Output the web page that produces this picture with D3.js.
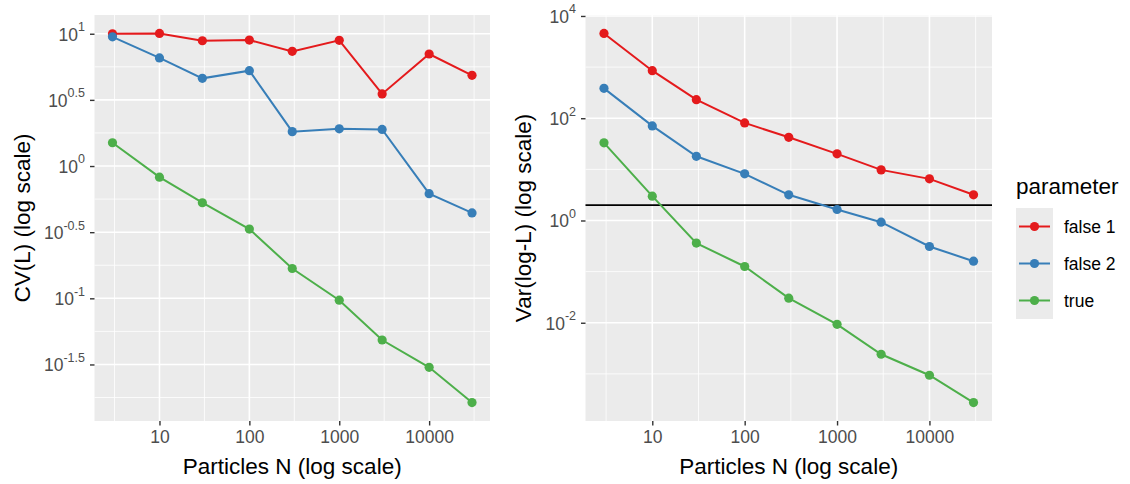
<!DOCTYPE html>
<html>
<head>
<meta charset="utf-8">
<script src="https://cdn.jsdelivr.net/npm/d3@7"></script>
<style>
  html, body { margin: 0; padding: 0; background: #ffffff; }
  svg { display: block; font-family: "Liberation Sans", Arial, Helvetica, sans-serif; }
</style>
</head>
<body>
<svg id="chart" width="1130" height="484"></svg>
<script>
// ---------------- data ----------------
const N = [3, 10, 30, 100, 300, 1000, 3000, 10000, 30000];
const parameters = ["false 1", "false 2", "true"];
const colors = ["#E41A1C", "#377EB8", "#4DAF4A"];

// CV(L)
const cvFalse1 = [10.0, 10.05, 8.85, 8.95, 7.36, 8.91, 3.51, 7.03, 4.85];
const cvFalse2 = [9.48, 6.56, 4.60, 5.26, 1.82, 1.91, 1.89, 0.618, 0.442];
const cvTrue   = [1.50, 0.824, 0.528, 0.334, 0.168, 0.0968, 0.0484, 0.0301, 0.0163];

// Var(log-L)
const varFalse1 = [4550, 851, 231, 80.9, 42.4, 20.1, 9.77, 6.52, 3.18];
const varFalse2 = [384, 70.8, 18.0, 8.17, 3.18, 1.64, 0.927, 0.310, 0.160];
const varTrue   = [33.0, 2.99, 0.361, 0.126, 0.0303, 0.00931, 0.00242, 0.00094, 0.000275];
const varReference = 2;

// ticks
const xTicks = [10, 100, 1000, 10000];
const xTickLabels = ["10", "100", "1000", "10000"];
const cvTickExponents = ["1", "0.5", "0", "-0.5", "-1", "-1.5"];
const varTickExponents = ["4", "2", "0", "-2"];

const xTitle = "Particles N (log scale)";
const cvTitle = "CV(L) (log scale)";
const varTitle = "Var(log-L) (log scale)";
const legendTitle = "parameter";

// ---------------- drawing ----------------
const svg = d3.select("#chart");
const tickFont = 17.5, titleFont = 22.5;

function expandedLogDomain(vals) {
  const lo = Math.log10(d3.min(vals)), hi = Math.log10(d3.max(vals));
  const pad = (hi - lo) * 0.05;
  return [Math.pow(10, lo - pad), Math.pow(10, hi + pad)];
}

function drawPanel(opts) {
  const { left, right, top, bottom, series, yTickExps, yTitle, yTitleX, hline } = opts;
  const g = svg.append("g");
  const x = d3.scaleLog().domain(expandedLogDomain(N)).range([left, right]);
  const allY = series.flat();
  const y = d3.scaleLog().domain(expandedLogDomain(allY)).range([bottom, top]);

  // panel background
  g.append("rect").attr("x", left).attr("y", top)
    .attr("width", right - left).attr("height", bottom - top).attr("fill", "#EBEBEB");

  const xLog = x.domain().map(Math.log10);
  const yLog = y.domain().map(Math.log10);
  const yMajorExp = yTickExps.map(Number);
  const yStep = Math.abs(yMajorExp[0] - yMajorExp[1]);

  // minor grid (midpoints in log space)
  const xMinor = [];
  for (let e = Math.floor(xLog[0]) - 0.5; e <= xLog[1]; e += 1) if (e >= xLog[0]) xMinor.push(Math.pow(10, e));
  const yMinor = [];
  for (let e = Math.floor(yLog[0] / yStep) * yStep - yStep / 2; e <= yLog[1]; e += yStep) if (e >= yLog[0]) yMinor.push(Math.pow(10, e));

  g.selectAll(".xminor").data(xMinor).join("line")
    .attr("x1", d => x(d)).attr("x2", d => x(d)).attr("y1", top).attr("y2", bottom)
    .attr("stroke", "#ffffff").attr("stroke-width", 0.8);
  g.selectAll(".yminor").data(yMinor).join("line")
    .attr("x1", left).attr("x2", right).attr("y1", d => y(d)).attr("y2", d => y(d))
    .attr("stroke", "#ffffff").attr("stroke-width", 0.8);

  // major grid
  const yMajor = yMajorExp.map(e => Math.pow(10, e));
  g.selectAll(".xmajor").data(xTicks).join("line")
    .attr("x1", d => x(d)).attr("x2", d => x(d)).attr("y1", top).attr("y2", bottom)
    .attr("stroke", "#ffffff").attr("stroke-width", 1.6);
  g.selectAll(".ymajor").data(yMajor).join("line")
    .attr("x1", left).attr("x2", right).attr("y1", d => y(d)).attr("y2", d => y(d))
    .attr("stroke", "#ffffff").attr("stroke-width", 1.6);

  // reference line
  if (hline !== undefined) {
    g.append("line").attr("x1", left).attr("x2", right)
      .attr("y1", y(hline)).attr("y2", y(hline))
      .attr("stroke", "#000000").attr("stroke-width", 1.8);
  }

  // series
  const line = d3.line().x((d, i) => x(N[i])).y(d => y(d));
  series.forEach((vals, k) => {
    g.append("path").datum(vals).attr("d", line)
      .attr("fill", "none").attr("stroke", colors[k]).attr("stroke-width", 2);
    g.selectAll(".pt" + k).data(vals).join("circle")
      .attr("cx", (d, i) => x(N[i])).attr("cy", d => y(d)).attr("r", 4.6)
      .attr("fill", colors[k]);
  });

  // x axis
  const xAxis = d3.axisBottom(x).tickValues(xTicks)
    .tickFormat((d, i) => xTickLabels[i]).tickSize(4.5).tickPadding(5);
  const gx = g.append("g").attr("transform", `translate(0,${bottom})`).call(xAxis);
  gx.select(".domain").remove();
  gx.selectAll(".tick line").attr("stroke", "#333333").attr("stroke-width", 1.4);
  gx.selectAll(".tick text").attr("fill", "#4D4D4D").attr("font-size", tickFont)
    .attr("font-family", "Liberation Sans, Arial, sans-serif");

  // y axis
  const yAxis = d3.axisLeft(y).tickValues(yMajor).tickFormat(() => "").tickSize(4.5).tickPadding(5);
  const gy = g.append("g").attr("transform", `translate(${left},0)`).call(yAxis);
  gy.select(".domain").remove();
  gy.selectAll(".tick line").attr("stroke", "#333333").attr("stroke-width", 1.4);
  gy.selectAll(".tick text").each(function (d, i) {
    const t = d3.select(this).text(null)
      .attr("fill", "#4D4D4D").attr("font-size", tickFont)
      .attr("font-family", "Liberation Sans, Arial, sans-serif")
      .attr("dy", "0.36em");
    t.append("tspan").text("10");
    t.append("tspan").attr("font-size", 12.5).attr("dy", "-0.75em").text(yTickExps[i]);
  });

  // x title
  g.append("text").attr("x", (left + right) / 2).attr("y", 474)
    .attr("text-anchor", "middle").attr("font-size", titleFont).attr("fill", "#000")
    .text(xTitle);
  // y title
  g.append("text").attr("transform", `translate(${yTitleX},${(top + bottom) / 2}) rotate(-90)`)
    .attr("text-anchor", "middle").attr("font-size", titleFont).attr("fill", "#000")
    .text(yTitle);
}

drawPanel({
  left: 94.5, right: 490, top: 15, bottom: 421,
  series: [cvFalse1, cvFalse2, cvTrue],
  yTickExps: cvTickExponents, yTitle: cvTitle, yTitleX: 30
});

drawPanel({
  left: 585.5, right: 992, top: 15, bottom: 421,
  series: [varFalse1, varFalse2, varTrue],
  yTickExps: varTickExponents, yTitle: varTitle, yTitleX: 531,
  hline: varReference
});

// legend
const lg = svg.append("g");
lg.append("text").attr("x", 1016).attr("y", 194).attr("font-size", titleFont).attr("fill", "#000").text(legendTitle);
const keyTop = 208, keyH = 37;
parameters.forEach((p, i) => {
  const cy = keyTop + keyH * i + keyH / 2;
  lg.append("rect").attr("x", 1016).attr("y", keyTop + keyH * i).attr("width", 37).attr("height", keyH).attr("fill", "#EBEBEB");
  lg.append("line").attr("x1", 1019).attr("x2", 1050).attr("y1", cy).attr("y2", cy)
    .attr("stroke", colors[i]).attr("stroke-width", 2);
  lg.append("circle").attr("cx", 1034.5).attr("cy", cy).attr("r", 4.6).attr("fill", colors[i]);
  lg.append("text").attr("x", 1064).attr("y", cy).attr("dy", "0.36em")
    .attr("font-size", tickFont).attr("fill", "#000").text(p);
});
</script>
</body>
</html>
